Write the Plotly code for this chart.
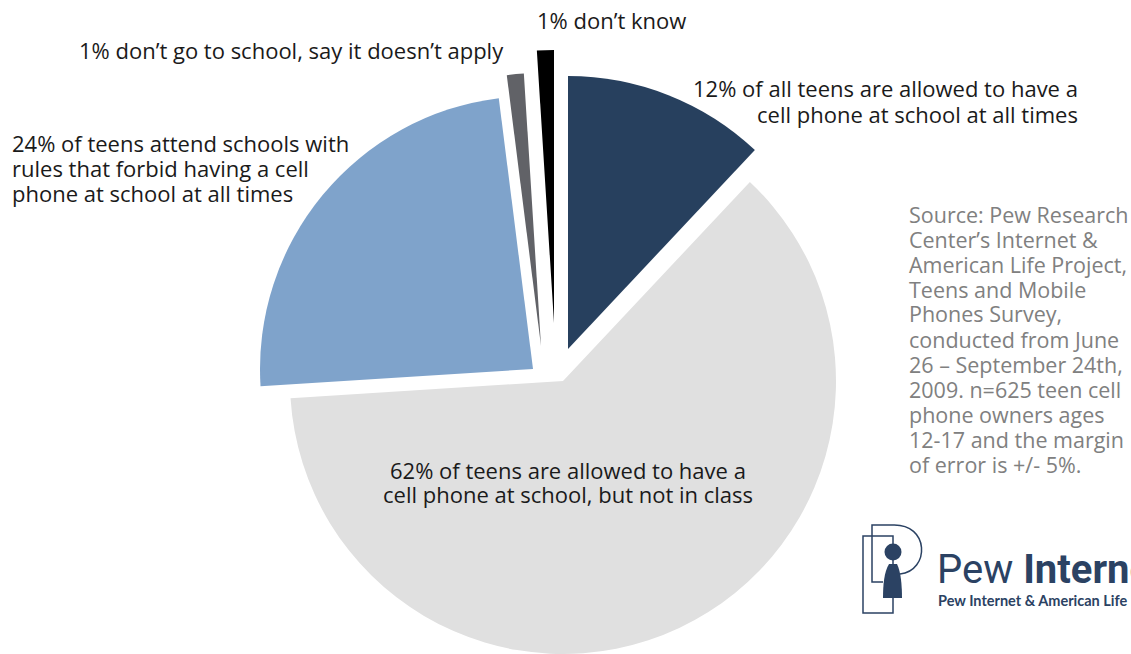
import plotly.graph_objects as go

W, H = 1131, 654

# ---- data ----
label_lines = [
    ["12% of all teens are allowed to have a", "cell phone at school at all times"],
    ["62% of teens are allowed to have a", "cell phone at school, but not in class"],
    ["24% of teens attend schools with", "rules that forbid having a cell", "phone at school at all times"],
    ["1% don\u2019t go to school, say it doesn\u2019t apply"],
    ["1% don\u2019t know"],
]
values = [12, 62, 24, 1, 1]
colors = ["#27405e", "#e0e0e0", "#7fa3cb", "#616267", "#000000"]

source_lines = ["Source: Pew Research", "Center\u2019s Internet &", "American Life Project,",
                "Teens and Mobile", "Phones Survey,", "conducted from June",
                "26 \u2013 September 24th,", "2009. n=625 teen cell", "phone owners ages",
                "12-17 and the margin", "of error is +/- 5%."]

# ---- layout (pixel geometry of exploded slices) ----
R = 273
centers = [(568, 349), (563, 381), (533, 369), (541, 346), (554, 323)]


def fx(x):
    return x / W


def fy(y):
    return 1 - y / H


fig = go.Figure()
for i, (cx, cy) in enumerate(centers):
    cols = ["rgba(0,0,0,0)"] * len(values)
    cols[i] = colors[i]
    fig.add_trace(go.Pie(
        values=values,
        labels=[str(k) for k in range(len(values))],
        sort=False,
        direction="clockwise",
        rotation=0,
        marker=dict(colors=cols, line=dict(width=0)),
        textinfo="none",
        hoverinfo="skip",
        showlegend=False,
        domain=dict(x=[fx(cx - R), fx(cx + R)],
                    y=[max(0, fy(cy + R)), min(1, fy(cy - R))]),
    ))

FONT = "Open Sans"
TXT = "#1a1a1a"
LS = 24.8


def block(lines, x, y0, xanchor, size=22, color=TXT, family=FONT, spacing=LS):
    for k, t in enumerate(lines):
        fig.add_annotation(text=t, x=fx(x), y=fy(y0 + k * spacing), xref="paper", yref="paper",
                           xanchor=xanchor, yanchor="middle", showarrow=False,
                           font=dict(family=family, size=size, color=color))


block(label_lines[4], 535, 20, "left")
block(label_lines[3], 77, 50, "left")
block(label_lines[0], 1080, 88, "right", spacing=26)
block(label_lines[2], 10, 143, "left")
block(label_lines[1], 568, 470, "center", spacing=24)
block(source_lines, 907, 214, "left", size=21.5, color="#808080", spacing=25)

# ---- logo ----
LOGO = "#2b4263"
fig.add_annotation(text="Pew <b>Internet</b>", x=fx(935), y=fy(569), xref="paper", yref="paper",
                   xanchor="left", yanchor="middle", showarrow=False,
                   font=dict(family="Roboto", size=40, color=LOGO))
fig.add_annotation(text="<b>Pew Internet & American Life</b>", x=fx(936), y=fy(600),
                   xref="paper", yref="paper", xanchor="left", yanchor="middle", showarrow=False,
                   font=dict(family="Lato", size=14.5, color=LOGO))


def path(cmds):
    out = []
    for c in cmds:
        if isinstance(c, str):
            out.append(c)
        else:
            out.append(f"{fx(c[0]):.5f},{fy(c[1]):.5f}")
    return " ".join(out)


fig.add_shape(type="path", xref="paper", yref="paper",
              path=path(["M", (863, 536), "L", (893, 536), "L", (893, 613), "L", (863, 613), "Z"]),
              line=dict(color=LOGO, width=1.5))
fig.add_shape(type="path", xref="paper", yref="paper",
              path=path(["M", (883, 582), "L", (872, 582), "L", (872, 525), "L", (892, 525),
                         "C", (930, 523), (930, 571), (900, 574)]),
              line=dict(color=LOGO, width=1.5))
fig.add_shape(type="circle", xref="paper", yref="paper",
              x0=fx(893 - 8.5), x1=fx(893 + 8.5), y0=fy(552 + 8.5), y1=fy(552 - 8.5),
              fillcolor=LOGO, line=dict(width=0))
fig.add_shape(type="path", xref="paper", yref="paper",
              path=path(["M", (889, 564), "C", (884, 572), (883, 586), (883, 598), "L", (902, 598),
                         "C", (902, 586), (901, 572), (897, 564), "Z"]),
              fillcolor=LOGO, line=dict(width=0))

fig.update_layout(width=W, height=H, margin=dict(l=0, r=0, t=0, b=0),
                  paper_bgcolor="white", plot_bgcolor="white")
fig.write_html("out.html", config={"displayModeBar": False},
               post_script="document.body.style.margin='0';")
